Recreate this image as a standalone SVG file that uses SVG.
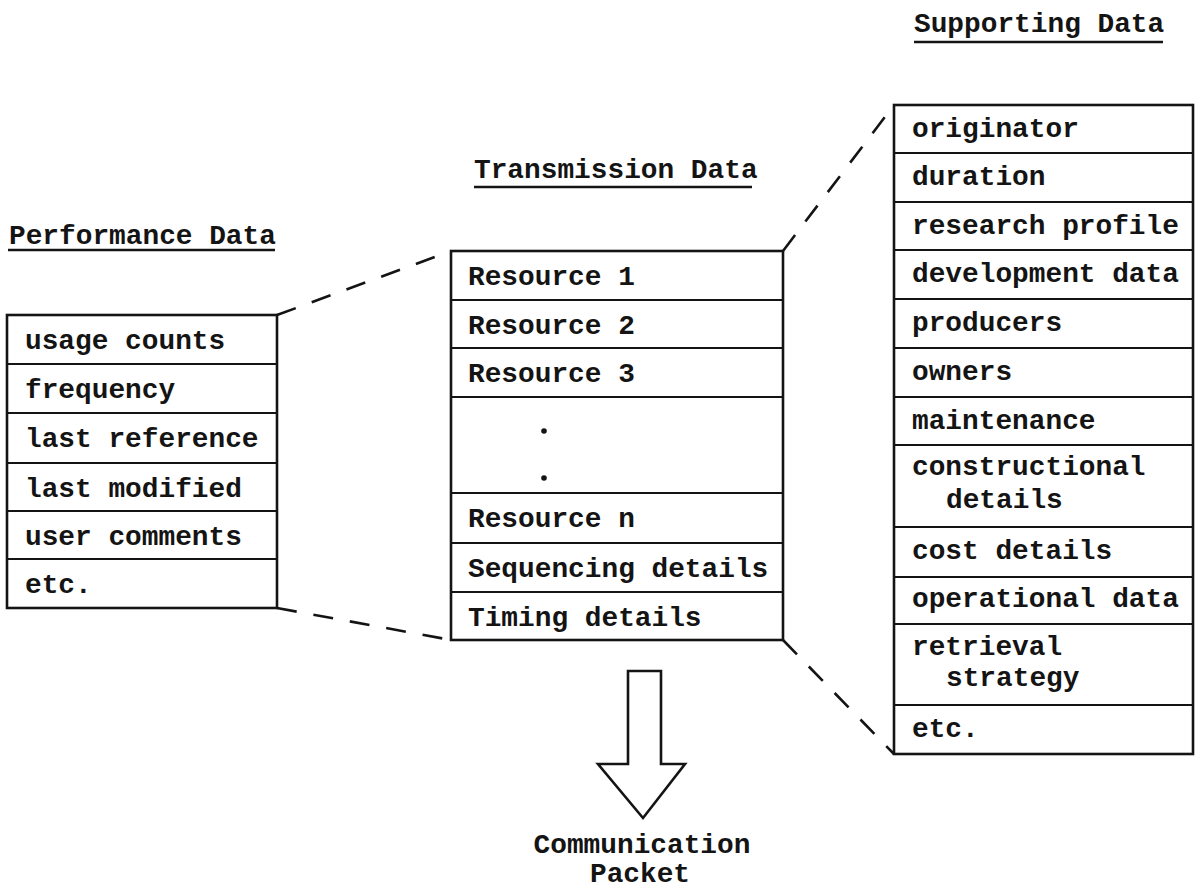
<svg xmlns="http://www.w3.org/2000/svg" width="1198" height="891" viewBox="0 0 1198 891">
<style>
text{font-family:"Liberation Mono","Courier New",monospace;font-size:27.8px;font-weight:bold;fill:#141414}
.title{font-size:27.8px}
.box{fill:#fff;stroke:#141414;stroke-width:2.6}
.row{stroke:#141414;stroke-width:2.2}
.ul{stroke:#141414;stroke-width:2.6}
.dash{stroke:#141414;stroke-width:2.6;stroke-dasharray:20 17;fill:none}
.arrow{fill:#fff;stroke:#141414;stroke-width:2.6;stroke-linejoin:miter}
.mid{text-anchor:middle}
</style>
<rect width="1198" height="891" fill="#fff"/>
<g id="connectors">
<line class="dash" x1="277" y1="315" x2="451" y2="251"/>
<line class="dash" x1="277" y1="608" x2="451" y2="640"/>
<line class="dash" x1="783" y1="251" x2="894" y2="105"/>
<line class="dash" x1="783" y1="640" x2="894" y2="754"/>
<polygon class="arrow" points="628,671 661,671 661,764 685,764 643,818 598,764 628,764"/>
</g>
<g id="performance-data">
<text class="title" x="9" y="244">Performance Data</text>
<line class="ul" x1="8" y1="250" x2="275" y2="250"/>
<rect class="box" x="7" y="315" width="270" height="293"/>
<line class="row" x1="7" y1="364" x2="277" y2="364"/>
<line class="row" x1="7" y1="413" x2="277" y2="413"/>
<line class="row" x1="7" y1="463" x2="277" y2="463"/>
<line class="row" x1="7" y1="511" x2="277" y2="511"/>
<line class="row" x1="7" y1="559" x2="277" y2="559"/>
<text x="25" y="349">usage counts</text>
<text x="25" y="398">frequency</text>
<text x="25" y="447">last reference</text>
<text x="25" y="497">last modified</text>
<text x="25" y="545">user comments</text>
<text x="25" y="593">etc.</text>
</g>
<g id="transmission-data">
<text class="title" x="474" y="178">Transmission Data</text>
<line class="ul" x1="474" y1="187" x2="752" y2="187"/>
<rect class="box" x="451" y="251" width="332" height="389"/>
<line class="row" x1="451" y1="300" x2="783" y2="300"/>
<line class="row" x1="451" y1="348" x2="783" y2="348"/>
<line class="row" x1="451" y1="397" x2="783" y2="397"/>
<line class="row" x1="451" y1="493" x2="783" y2="493"/>
<line class="row" x1="451" y1="543" x2="783" y2="543"/>
<line class="row" x1="451" y1="592" x2="783" y2="592"/>
<text x="468" y="285">Resource 1</text>
<text x="468" y="334">Resource 2</text>
<text x="468" y="382">Resource 3</text>
<circle cx="544" cy="431" r="2.8" fill="#141414"/>
<circle cx="544" cy="478" r="2.8" fill="#141414"/>
<text x="468" y="527">Resource n</text>
<text x="468" y="577">Sequencing details</text>
<text x="468" y="626">Timing details</text>
</g>
<g id="supporting-data">
<text class="title" x="914" y="32">Supporting Data</text>
<line class="ul" x1="914" y1="42" x2="1163" y2="42"/>
<rect class="box" x="894" y="105" width="299" height="649"/>
<line class="row" x1="894" y1="153" x2="1193" y2="153"/>
<line class="row" x1="894" y1="202" x2="1193" y2="202"/>
<line class="row" x1="894" y1="250" x2="1193" y2="250"/>
<line class="row" x1="894" y1="299" x2="1193" y2="299"/>
<line class="row" x1="894" y1="348" x2="1193" y2="348"/>
<line class="row" x1="894" y1="397" x2="1193" y2="397"/>
<line class="row" x1="894" y1="445" x2="1193" y2="445"/>
<line class="row" x1="894" y1="527" x2="1193" y2="527"/>
<line class="row" x1="894" y1="577" x2="1193" y2="577"/>
<line class="row" x1="894" y1="624" x2="1193" y2="624"/>
<line class="row" x1="894" y1="705" x2="1193" y2="705"/>
<text x="912" y="137">originator</text>
<text x="912" y="185">duration</text>
<text x="912" y="234">research profile</text>
<text x="912" y="282">development data</text>
<text x="912" y="331">producers</text>
<text x="912" y="380">owners</text>
<text x="912" y="429">maintenance</text>
<text x="912" y="475">constructional</text>
<text x="946" y="508">details</text>
<text x="912" y="559">cost details</text>
<text x="912" y="607">operational data</text>
<text x="912" y="655">retrieval</text>
<text x="946" y="686">strategy</text>
<text x="912" y="737">etc.</text>
</g>
<g id="communication-packet">
<text class="mid" x="642" y="853">Communication</text>
<text class="mid" x="640" y="882">Packet</text>
</g>
</svg>
